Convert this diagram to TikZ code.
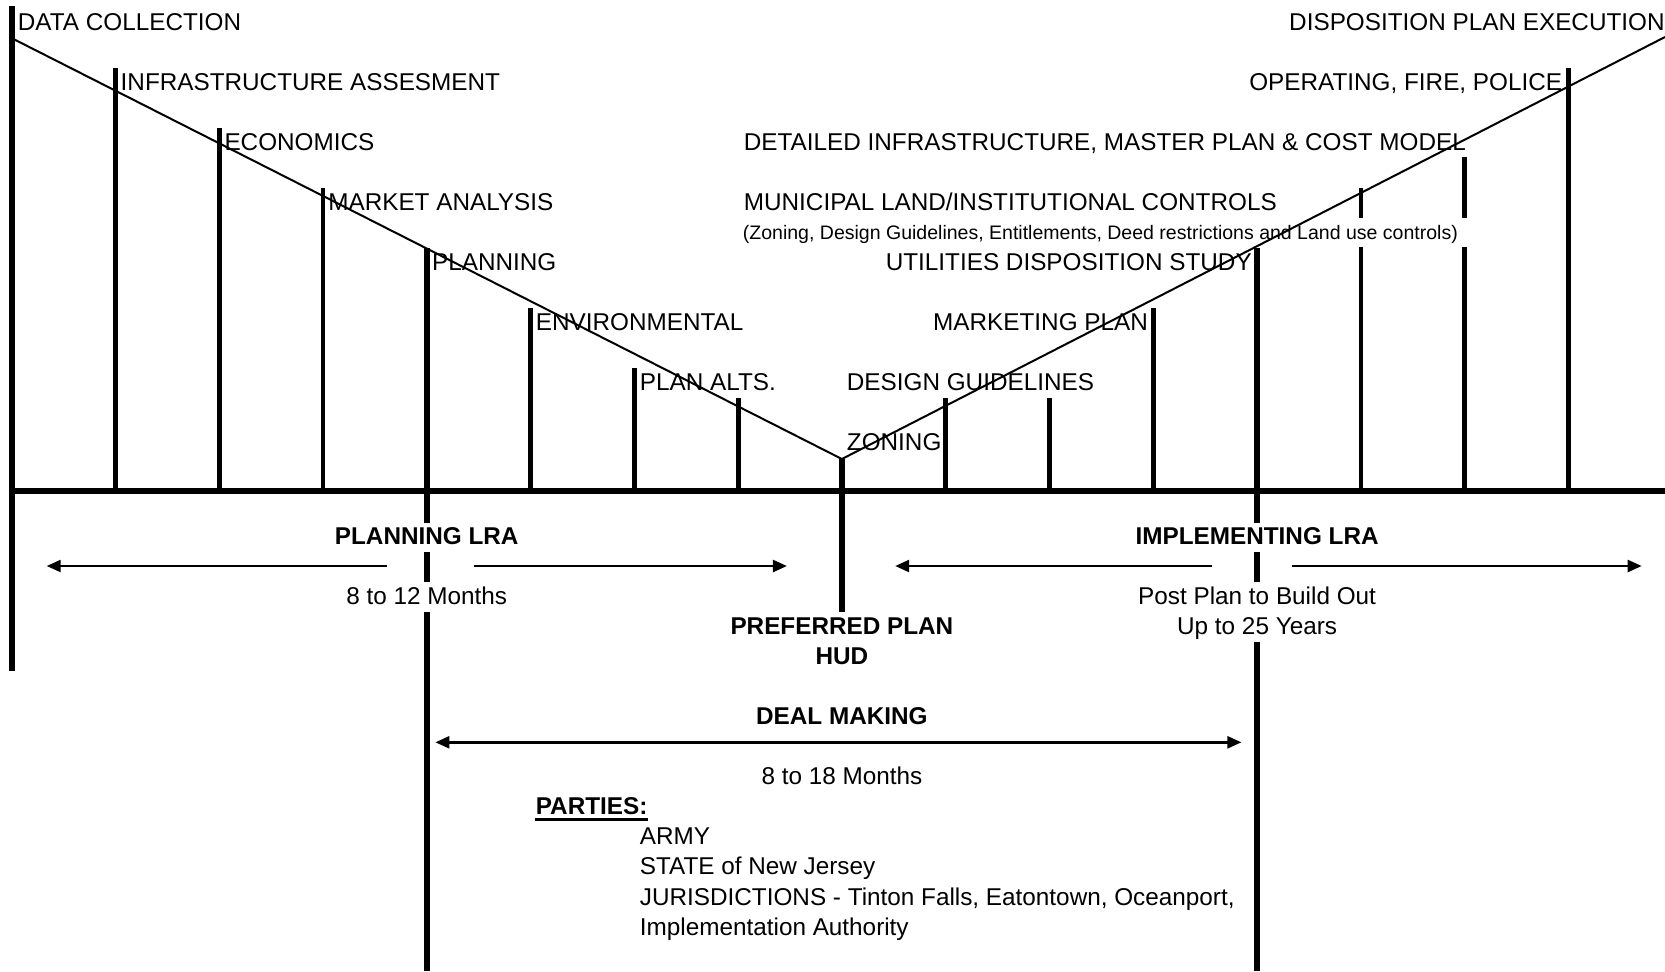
\documentclass[tikz,border=0pt]{standalone}
\usepackage{fontspec}
\setmainfont{Liberation Sans}
\usetikzlibrary{arrows.meta,positioning}

\begin{document}
\begin{tikzpicture}[x=0.5pt,y=-0.5pt,>={Triangle[length=7pt,width=6pt]},font=\fontsize{12.15}{15}\selectfont]
\tikzstyle{tick}=[line width=2.4pt]
\tikzstyle{pole}=[line width=3pt]
\tikzstyle{stage}=[inner sep=0pt]
\tikzstyle{phase}=[font=\fontsize{12.15}{15}\selectfont\bfseries,fill=white,inner xsep=3pt,inner ysep=2.2pt,text height=8.8pt,text depth=1.5pt]
\tikzstyle{span}=[phase,font=\fontsize{12.15}{15}\selectfont]
\tikzstyle{period}=[line width=1.2pt,->]

\useasboundingbox (0,0) rectangle (1665,971);

% baseline, poles and ticks
\draw[line width=3.4pt] (11.5,491) -- (1665,491);
\draw[pole] (11.5,6) -- (11.5,671);
\draw[pole] (426.7,248) -- (426.7,971);
\draw[pole] (1257.1,248) -- (1257.1,971);
\draw[pole] (841.9,459) -- (841.9,613);
\foreach \i/\t in {1/68,2/128,3/188,5/308,6/368,7/398,9/398,10/398,11/308,15/68}
  \draw[tick] ({11.5+103.8*\i},\t) -- ({11.5+103.8*\i},491);
\foreach \i/\t in {13/188,14/157} {
  \draw[tick] ({11.5+103.8*\i},\t) -- ({11.5+103.8*\i},218);
  \draw[tick] ({11.5+103.8*\i},247) -- ({11.5+103.8*\i},491);
}

% the V
\draw[line width=1pt] (11.5,38) -- (841.9,459) -- (1665,37);

% steps down the left side
\node[stage,anchor=base west] (datacol) at (17.5,30) {DATA COLLECTION};
\node[stage,anchor=base west] (infra) at (120.3,90) {INFRASTRUCTURE ASSESMENT};
\node[stage,anchor=base west] (econ) at (224.1,150) {ECONOMICS};
\node[stage,anchor=base west] (market) at (327.9,210) {MARKET ANALYSIS};
\node[stage,anchor=base west] (planning) at (431.7,270) {PLANNING};
\node[stage,anchor=base west] (environ) at (535.5,330) {ENVIRONMENTAL};
\node[stage,anchor=base west] (alts) at (639.5,390) {PLAN ALTS.};

% steps up the right side
\node[stage,anchor=base west] (zoning) at (846.5,450) {ZONING};
\node[stage,anchor=base west] (design) at (846.5,390) {DESIGN GUIDELINES};
\node[stage,anchor=base east] (marketing) at (1148.3,330) {MARKETING PLAN};
\node[stage,anchor=base east] (utilities) at (1252.1,270) {UTILITIES DISPOSITION STUDY};
\node[stage,anchor=base west,font=\fontsize{9.76}{12}\selectfont] (controlsnote) at (742.5,239.5) {(Zoning, Design Guidelines, Entitlements, Deed restrictions and Land use controls)};
\node[stage,anchor=base west] (controls) at (743.5,210) {MUNICIPAL LAND/INSTITUTIONAL CONTROLS};
\node[stage,anchor=base west] (detailed) at (743.5,150) {DETAILED INFRASTRUCTURE, MASTER PLAN \& COST MODEL};
\node[stage,anchor=base east] (operating) at (1562.5,90) {OPERATING, FIRE, POLICE};
\node[stage,anchor=base east] (execution) at (1665,30) {DISPOSITION PLAN EXECUTION};

% phases below the line
\node[phase] (planlra) at (426.7,537.6) {PLANNING LRA};
\node[span] (planmonths) at (426.7,597) {8 to 12 Months};
\node[phase] (implra) at (1257.1,537.6) {IMPLEMENTING LRA};
\node[span] (buildout) at (1257.1,597) {Post Plan to Build Out};
\node[span,below of=buildout,node distance=15pt] (years) {Up to 25 Years};
\node[phase] (preferred) at (841.9,626.8) {PREFERRED PLAN};
\node[phase,below of=preferred,node distance=15pt] (hud) {HUD};
\node[phase] (deal) at (841.9,717) {DEAL MAKING};
\node[span] (dealmonths) at (841.9,777.5) {8 to 18 Months};

\coordinate (plan-l0) at (386.5,566);
\coordinate (plan-l1) at (46.7,566);
\coordinate (plan-r0) at (473.6,566);
\coordinate (plan-r1) at (786.9,566);
\coordinate (imp-l0) at (1211.6,566);
\coordinate (imp-l1) at (895.2,566);
\coordinate (imp-r0) at (1292.3,566);
\coordinate (imp-r1) at (1641.7,566);
\coordinate (deal-l) at (435.4,742.3);
\coordinate (deal-r) at (1241.4,742.3);

\draw[period] (plan-l0) -- (plan-l1);
\draw[period] (plan-r0) -- (plan-r1);
\draw[period] (imp-l0) -- (imp-l1);
\draw[period] (imp-r0) -- (imp-r1);
\draw[period,<->] (deal-l) -- (deal-r);

% parties
\node[stage,anchor=base west,font=\fontsize{12.15}{15}\selectfont\bfseries] (parties) at (535.4,814.6) {PARTIES:};
\draw[line width=1.3pt] ([yshift=-2pt]parties.south west) -- ([yshift=-2pt]parties.south east);
\node[stage,anchor=north west,align=left,font=\fontsize{12.15}{15.2}\selectfont] (partylist) at (639.5,827.1) {ARMY\\STATE of New Jersey\\JURISDICTIONS - Tinton Falls, Eatontown, Oceanport,\\Implementation Authority};
\end{tikzpicture}
\end{document}
